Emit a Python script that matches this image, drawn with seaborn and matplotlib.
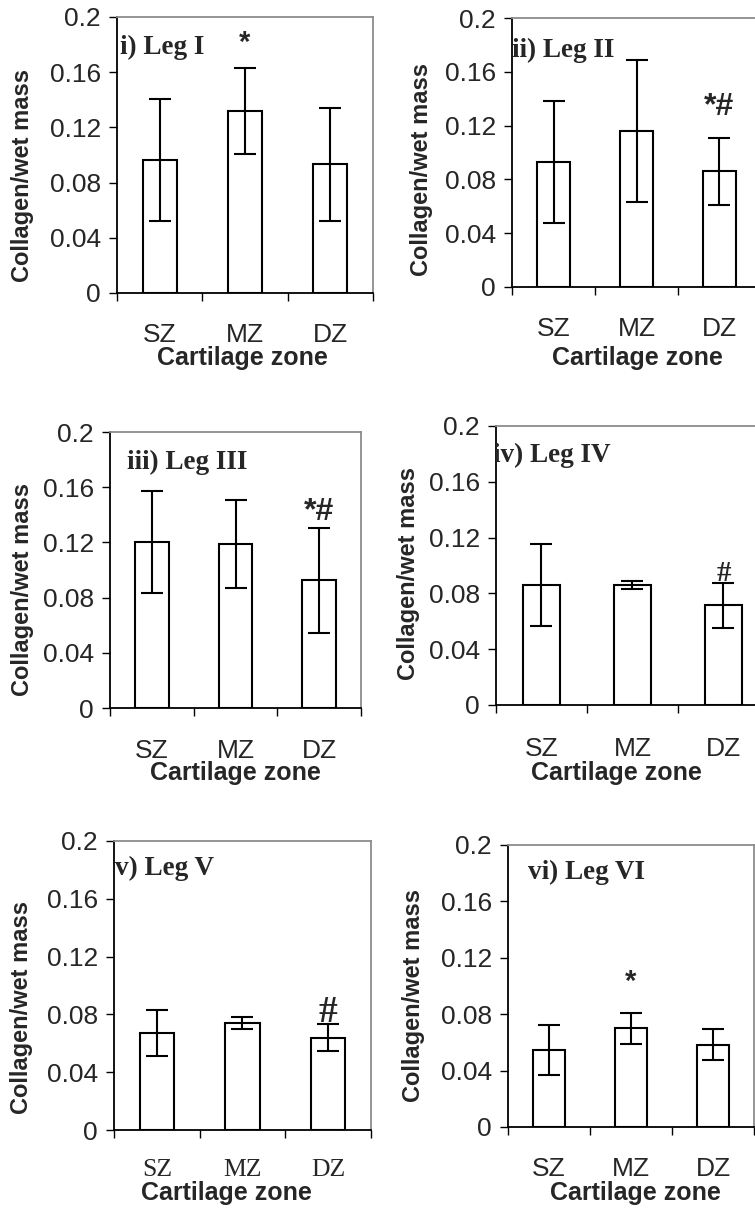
import matplotlib
matplotlib.use("Agg")
import matplotlib.pyplot as plt
import seaborn as sns

# ---------------- data ----------------
zones = ["SZ", "MZ", "DZ"]
panel_titles = ["i) Leg I", "ii) Leg II", "iii) Leg III", "iv) Leg IV", "v) Leg V", "vi) Leg VI"]

leg1_mean = [0.0966, 0.132, 0.0933]
leg1_err = [0.0441, 0.031, 0.041]
leg2_mean = [0.093, 0.116, 0.086]
leg2_err = [0.0455, 0.0525, 0.025]
leg3_mean = [0.120, 0.119, 0.0925]
leg3_err = [0.037, 0.032, 0.038]
leg4_mean = [0.086, 0.086, 0.0715]
leg4_err = [0.0295, 0.003, 0.016]
leg5_mean = [0.067, 0.074, 0.064]
leg5_err = [0.016, 0.0043, 0.0095]
leg6_mean = [0.0545, 0.070, 0.0585]
leg6_err = [0.0176, 0.011, 0.0113]

# significance marks: (text, category index, y value)
marks = [("*", 1, 0.181), ("*#", 2, 0.134), ("*#", 2, 0.142),
         ("#", 2, 0.094), ("#", 2, 0.0813), ("*", 1, 0.103)]

y_ticks = [0, 0.04, 0.08, 0.12, 0.16, 0.2]
y_tick_labels = ["0", "0.04", "0.08", "0.12", "0.16", "0.2"]
y_label = "Collagen/wet mass"
x_label = "Cartilage zone"

means = [leg1_mean, leg2_mean, leg3_mean, leg4_mean, leg5_mean, leg6_mean]
errs = [leg1_err, leg2_err, leg3_err, leg4_err, leg5_err, leg6_err]

# ---------------- layout (pixels) ----------------
W, H, DPI = 755, 1210, 100
# left, right, top, bottom of plot area
boxes = [(117, 373, 17, 293), (512, 761, 18, 287),
         (110, 361, 432, 708), (496, 769, 426, 705),
         (114, 371, 841, 1130), (508, 754, 845, 1127)]
title_pos = [(120, 47), (512, 50), (127, 462), (493, 455), (115, 868), (528, 872)]
ylabel_pos = [(23, 176), (422, 170), (23, 589), (408, 574), (22, 1007), (413, 995)]
xlabel_pos = [(242, 358), (637, 358), (235, 773), (616, 773), (226, 1193), (635, 1193)]
xtick_gap = [39, 40, 40, 42, 38, 40]
mark_family = ["sans", "sans", "sans", "serif", "serif", "sans"]
mark_size = [21, 23, 23, 21, 27, 21]

sns.set_style("ticks")
plt.rcParams["font.family"] = ["Liberation Sans", "DejaVu Sans"]

fig = plt.figure(figsize=(W / DPI, H / DPI), dpi=DPI)
fig.patch.set_facecolor("white")

SANS = ["Liberation Sans", "DejaVu Sans"]
SERIF = ["Liberation Serif", "DejaVu Serif"]
px2pt = 72.0 / DPI

for i in range(6):
    l, r, t, b = boxes[i]
    ax = fig.add_axes([l / W, 1 - b / H, (r - l) / W, (b - t) / H])
    ax.set_facecolor("white")
    sns.barplot(x=zones, y=means[i], ax=ax, color="white", saturation=1,
                edgecolor="black", linewidth=1.5, width=0.4, errorbar=None)
    ax.errorbar(x=range(3), y=means[i], yerr=errs[i], fmt="none",
                ecolor="black", elinewidth=1.5, capsize=8, capthick=1.5, zorder=3)

    ax.set_xlim(-0.5, 2.5)
    ax.set_ylim(0, 0.2)
    ax.set_yticks(y_ticks)
    ax.set_yticklabels(y_tick_labels)
    ax.tick_params(axis="y", length=8 * px2pt, width=1.0, pad=8 * px2pt,
                   labelsize=19, color="black", direction="out")

    ax.set_xticks([0, 1, 2])
    ax.set_xticks([-0.5, 0.5, 1.5, 2.5], minor=True)
    ax.set_xticklabels(zones)
    ax.tick_params(axis="x", which="major", length=0,
                   pad=xtick_gap[i] * px2pt, labelsize=19)
    ax.tick_params(axis="x", which="minor", length=8 * px2pt, width=1.0,
                   color="black", direction="out")
    for lbl in ax.get_xticklabels():
        lbl.set_va("center_baseline")
        if i == 4:
            lbl.set_family(SERIF)
            lbl.set_fontsize(18.5)

    for side in ["left", "bottom"]:
        ax.spines[side].set_color("black")
        ax.spines[side].set_linewidth(1.3)
    for side in ["top", "right"]:
        ax.spines[side].set_visible(True)
        ax.spines[side].set_color("#8c8c8c")
        ax.spines[side].set_linewidth(1.3)

    ax.set_xlabel("")
    ax.set_ylabel("")

    # panel title (clipped by plot area like the original)
    tx, ty = title_pos[i]
    ax.text((tx - l) / (r - l), (b - ty) / (b - t), panel_titles[i],
            transform=ax.transAxes, ha="left", va="center",
            fontsize=19.5, fontweight="bold", family=SERIF, clip_on=True)

    # significance marks
    txt, ci, yv = marks[i]
    ax.text(ci, yv, txt, ha="center", va="center", fontweight="bold",
            fontsize=mark_size[i],
            family=SERIF if mark_family[i] == "serif" else SANS)

    # axis titles
    yx, yy = ylabel_pos[i]
    fig.text(yx / W, 1 - yy / H, y_label, rotation=90, ha="center", va="center",
             fontsize=17, fontweight="bold", family=SANS)
    xx, xy = xlabel_pos[i]
    fig.text(xx / W, 1 - xy / H, x_label, ha="center", va="center",
             fontsize=18, fontweight="bold", family=SANS)

fig.savefig("out.png", dpi=DPI, facecolor="white")
